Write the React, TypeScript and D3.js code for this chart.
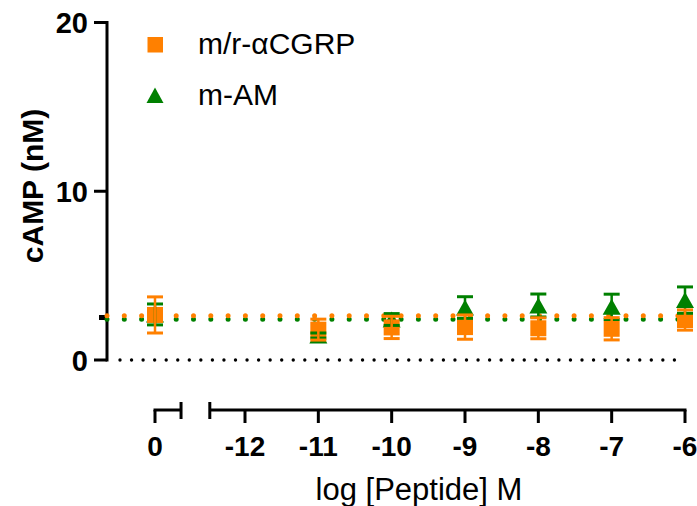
import React from "react";
import * as d3 from "d3";

const xValues = [0, -11, -10, -9, -8, -7, -6];
const cgrpMean = [2.67, 1.8, 1.93, 1.95, 1.88, 1.85, 2.37];
const cgrpErr = [1.07, 0.62, 0.66, 0.72, 0.62, 0.66, 0.6];
const amMean = [2.7, 1.45, 2.4, 3.11, 3.23, 3.15, 3.55];
const amErr = [0.62, 0.15, 0.35, 0.64, 0.68, 0.75, 0.78];
const cgrpFit = 2.62;
const amFit = 2.42;
const yTicks = [0, 10, 20];
const xTicksMain = [-12, -11, -10, -9, -8, -7, -6];
const xTicksCtrl = [0];
const seriesNames = ["m/r-αCGRP", "m-AM"];

const ORANGE = "#FF8000";
const GREEN = "#008000";
const FONT = "'Liberation Sans', Arial, Helvetica, sans-serif";

export default function App() {
  const W = 697, H = 506;
  const y = d3.scaleLinear().domain([0, 20]).range([360, 22.5]);
  const xMain = d3.scaleLinear().domain([-12, -6]).range([245, 685]);
  const xCtrl = d3.scaleLinear().domain([0, 1]).range([155, 155 + (685 - 245) / 6]);
  const xPos = (v: number) => (v === 0 ? xCtrl(v) : xMain(v));
  const axisY = 410;
  const yAxisX = 107;
  const mainStart = xMain(-12.48);
  const ctrlEnd = xCtrl(0.355);

  const sq = 16;
  const triW = 18, triH = 16;
  const capW = 16;

  const errBars = (means: number[], errs: number[], color: string) =>
    xValues.map((xv, i) => {
      const cx = xPos(xv);
      const top = y(means[i] + errs[i]);
      const bot = y(means[i] - errs[i]);
      return (
        <g key={i} stroke={color} strokeWidth={3}>
          <line x1={cx} x2={cx} y1={top} y2={bot} strokeWidth={2.5} />
          <line x1={cx - capW / 2} x2={cx + capW / 2} y1={top} y2={top} />
          <line x1={cx - capW / 2} x2={cx + capW / 2} y1={bot} y2={bot} />
        </g>
      );
    });

  const triPath = (cx: number, cy: number) =>
    `M${cx},${cy - triH / 2}L${cx + triW / 2},${cy + triH / 2}L${cx - triW / 2},${cy + triH / 2}Z`;

  return (
    <svg width={W} height={H} style={{ position: "absolute", left: 0, top: 0, background: "#fff" }}>
      {/* zero reference dotted line */}
      <line x1={120} x2={676} y1={y(0)} y2={y(0)} stroke="#000" strokeWidth={3.4}
        strokeDasharray="0 11.55" strokeLinecap="round" />

      {/* Y axis */}
      <line x1={yAxisX} x2={yAxisX} y1={y(20) - 1.5} y2={y(0) + 1.5} stroke="#000" strokeWidth={3} />
      {yTicks.map((t) => (
        <g key={t}>
          <line x1={94} x2={yAxisX} y1={y(t)} y2={y(t)} stroke="#000" strokeWidth={3} />
          <text x={88} y={y(t) + 10.5} textAnchor="end" fontFamily={FONT} fontWeight="bold" fontSize={29}>
            {t}
          </text>
        </g>
      ))}
      <line x1={99} x2={yAxisX} y1={y(2.52)} y2={y(2.52)} stroke="#000" strokeWidth={5} />
      <text transform={`translate(43,186) rotate(-90)`} textAnchor="middle" fontFamily={FONT}
        fontWeight="bold" fontSize={30}>cAMP (nM)</text>

      {/* X axis */}
      <g stroke="#000" strokeWidth={3} fill="none">
        <line x1={xCtrl(0) - 1.5} x2={ctrlEnd} y1={axisY} y2={axisY} />
        <line x1={ctrlEnd} x2={ctrlEnd} y1={axisY - 8} y2={axisY + 9} />
        {xTicksCtrl.map((t) => (
          <line key={t} x1={xCtrl(t)} x2={xCtrl(t)} y1={axisY} y2={axisY + 13} />
        ))}
        <line x1={mainStart} x2={xMain(-6) + 1.5} y1={axisY} y2={axisY} />
        <line x1={mainStart} x2={mainStart} y1={axisY - 8} y2={axisY + 9} />
        {xTicksMain.map((t) => (
          <line key={t} x1={xMain(t)} x2={xMain(t)} y1={axisY} y2={axisY + 13} />
        ))}
      </g>
      {xTicksCtrl.map((t) => (
        <text key={"c" + t} x={xCtrl(t)} y={456} textAnchor="middle" fontFamily={FONT}
          fontWeight="bold" fontSize={28}>{t}</text>
      ))}
      {xTicksMain.map((t) => (
        <text key={"m" + t} x={xMain(t)} y={456} textAnchor="middle" fontFamily={FONT}
          fontWeight="bold" fontSize={28}>{t}</text>
      ))}
      <text x={419} y={500} textAnchor="middle" fontFamily={FONT} fontSize={31}>log [Peptide] M</text>

      {/* fit lines */}
      <line x1={107} x2={685} y1={y(amFit)} y2={y(amFit)} stroke={GREEN} strokeWidth={5}
        strokeDasharray="0 17.3" strokeLinecap="round" />
      <line x1={107} x2={685} y1={y(cgrpFit)} y2={y(cgrpFit)} stroke={ORANGE} strokeWidth={5}
        strokeDasharray="0 17.3" strokeLinecap="round" />

      {/* symbols */}
      {xValues.map((xv, i) => (
        <path key={"t" + i} d={triPath(xPos(xv), y(amMean[i]))} fill={GREEN} />
      ))}
      {xValues.map((xv, i) => (
        <rect key={"s" + i} x={xPos(xv) - sq / 2} y={y(cgrpMean[i]) - sq / 2} width={sq} height={sq} fill={ORANGE} />
      ))}
      {errBars(amMean, amErr, GREEN)}
      {errBars(cgrpMean, cgrpErr, ORANGE)}

      {/* legend */}
      <rect x={147.5} y={37} width={15.5} height={15.5} fill={ORANGE} />
      <text x={198} y={54} fontFamily={FONT} fontSize={30}>{seriesNames[0]}</text>
      <path d={`M155,87.5L163.5,103L146.5,103Z`} fill={GREEN} />
      <text x={198} y={105} fontFamily={FONT} fontSize={30}>{seriesNames[1]}</text>
    </svg>
  );
}
